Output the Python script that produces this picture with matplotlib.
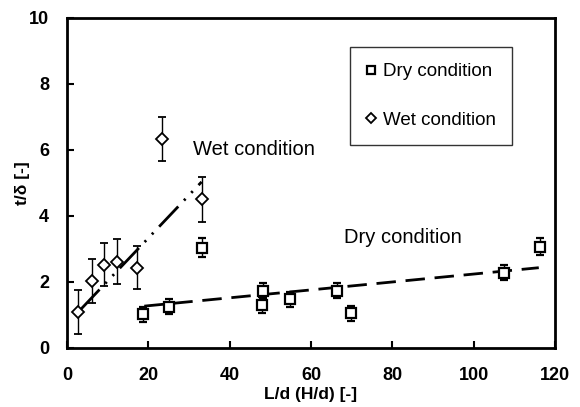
import numpy as np
import matplotlib
matplotlib.use('Agg')
from matplotlib import pyplot as plt

plt.rcParams['font.family'] = ['Liberation Sans', 'DejaVu Sans']

# dry condition
dry_x = [18.6, 25.2, 33.3, 48.3, 47.9, 54.8, 66.5, 69.8, 107.5, 116.3]
dry_y = [1.02, 1.25, 3.04, 1.74, 1.30, 1.47, 1.74, 1.05, 2.28, 3.07]
dry_err = [0.22, 0.23, 0.28, 0.24, 0.25, 0.22, 0.22, 0.22, 0.22, 0.25]

# wet condition
wet_x = [2.8, 6.2, 9.1, 12.2, 17.3, 23.4, 33.3]
wet_y = [1.10, 2.03, 2.52, 2.62, 2.43, 6.32, 4.50]
wet_err = [0.67, 0.67, 0.65, 0.68, 0.65, 0.67, 0.67]

# trend lines (start, end, slope, intercept)
dry_fit = (19.0, 116.0, 0.012, 1.04)
wet_fit = (3.3, 33.1, 0.130, 0.73)

xticks = [0, 20, 40, 60, 80, 100, 120]
yticks = [0, 2, 4, 6, 8, 10]

fig = plt.figure(figsize=(5.8, 4.07), dpi=100)
ax = fig.add_axes([0.1155, 0.145, 0.8415, 0.811])

xd = np.array([dry_fit[0], dry_fit[1]])
ax.plot(xd, dry_fit[2] * xd + dry_fit[3], color='black', lw=2,
        dashes=(7, 3.5), zorder=1)
xw = np.array([wet_fit[0], wet_fit[1]])
ax.plot(xw, wet_fit[2] * xw + wet_fit[3], color='black', lw=2,
        dashes=(10, 3, 0.8, 3, 0.8, 3), zorder=1)

ax.errorbar(dry_x, dry_y, yerr=dry_err, fmt='s', ms=7.5, mfc='white',
            mec='black', mew=1.6, ecolor='black', elinewidth=1, capsize=3,
            label='Dry condition', zorder=3)
ax.errorbar(wet_x, wet_y, yerr=wet_err, fmt='D', ms=6.5, mfc='white',
            mec='black', mew=1.3, ecolor='black', elinewidth=1, capsize=3,
            label='Wet condition', zorder=3)

ax.text(31, 6.0, 'Wet condition', fontsize=14.5, ha='left', va='center')
ax.text(68, 3.36, 'Dry condition', fontsize=14.5, ha='left', va='center')

ax.set_xlim(0, 120)
ax.set_ylim(0, 10)
ax.set_xticks(xticks, [str(v) for v in xticks], fontweight='bold', fontsize=13)
ax.set_yticks(yticks, [str(v) for v in yticks], fontweight='bold', fontsize=13)
ax.tick_params(direction='in', length=5, width=1.5, top=False, right=False)
ax.tick_params(axis='x', pad=14)
ax.tick_params(axis='y', pad=13)
for sp in ax.spines.values():
    sp.set_linewidth(2)

ax.set_xlabel('L/d (H/d) [-]', fontsize=12.5, fontweight='bold')
ax.set_ylabel('t/δ [-]', fontsize=12.5, fontweight='bold')
ax.xaxis.set_label_coords(0.5, -0.118)
ax.yaxis.set_label_coords(-0.076, 0.5)

h, l = ax.get_legend_handles_labels()
h = [x[0] for x in h]
leg = ax.legend(h, l, loc='upper right', bbox_to_anchor=(0.912, 0.912),
                fontsize=13.5, frameon=True, fancybox=False, edgecolor='black',
                labelspacing=1.67, handletextpad=0.4, handlelength=0.5,
                borderpad=0.86, borderaxespad=0, markerscale=0.8)
leg.get_frame().set_linewidth(1)

fig.savefig('out.png', dpi=100)
